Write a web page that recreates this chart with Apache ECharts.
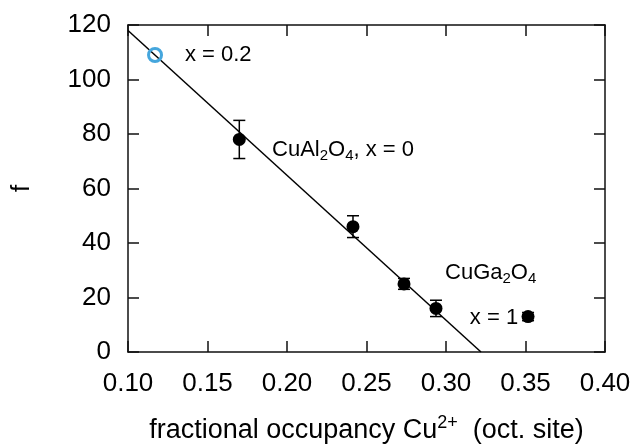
<!DOCTYPE html>
<html>
<head>
<meta charset="utf-8">
<script src="https://cdn.jsdelivr.net/npm/echarts@6/dist/echarts.min.js"></script>
<style>html,body{margin:0;padding:0;background:#fff;}#c{width:632px;height:444px;}</style>
</head>
<body>
<div id="c"></div>
<script>
// data
var occX = [0.170, 0.2415, 0.2736, 0.2937, 0.3516];
var fVals = [78, 46, 25, 16, 13];
var fErr = [7, 4, 2, 3, 1.5];
var openPoint = [0.117, 109];
var fitLine = [[0.10, 118], [0.322, 0]];
var xTicks = [0.10, 0.15, 0.20, 0.25, 0.30, 0.35, 0.40];
var yTicks = [0, 20, 40, 60, 80, 100, 120];
var annotations = [
  {x: 0.1358, y: 109, text: '{a|x = 0.2}'},
  {x: 0.1906, y: 74, text: '{a|CuAl}{s|2}{a|O}{s|4}{a|, x = 0}'},
  {x: 0.2994, y: 29, text: '{a|CuGa}{s|2}{a|O}{s|4}'},
  {x: 0.315, y: 12.5, text: '{a|x = 1}'}
];

var font = 'Liberation Sans, Arial, sans-serif';
var chart = echarts.init(document.getElementById('c'));
var pts = occX.map(function (x, i) { return [x, fVals[i]]; });
var errData = occX.map(function (x, i) { return [x, fVals[i] - fErr[i], fVals[i] + fErr[i]]; });
var richStyle = {
  a: {fontSize: 22, fontFamily: font, color: '#000'},
  s: {fontSize: 15, fontFamily: font, color: '#000', padding: [12, 0, 0, 0]}
};
var axisCommon = {
  axisLine: {show: true, onZero: false, lineStyle: {color: '#111', width: 1.5}},
  axisTick: {show: true, inside: true, length: 11, lineStyle: {color: '#111', width: 1.5}},
  splitLine: {show: false}
};
chart.setOption({
  animation: false,
  grid: {left: 128, right: 27, top: 25, bottom: 92, containLabel: false, outerBoundsMode: 'none'},
  xAxis: [
    Object.assign({type: 'value', min: 0.10, max: 0.40, interval: 0.05, position: 'bottom',
      name: '{a|fractional occupancy Cu}{p|2+}{a|  (oct. site)}',
      nameLocation: 'middle', nameGap: 62,
      nameTextStyle: {rich: {
        a: {fontSize: 27, fontFamily: font, color: '#000'},
        p: {fontSize: 18, fontFamily: font, color: '#000', padding: [0, 0, 16, 0]}
      }},
      axisLabel: {fontSize: 26, fontFamily: font, color: '#000', margin: 19,
        formatter: function (v) { return v.toFixed(2); }}
    }, axisCommon),
    Object.assign({type: 'value', min: 0.10, max: 0.40, interval: 0.05, position: 'top',
      axisLabel: {show: false}}, axisCommon)
  ],
  yAxis: [
    Object.assign({type: 'value', min: 0, max: 120, interval: 20, position: 'left',
      name: 'f', nameLocation: 'middle', nameGap: 93, nameRotate: 90,
      nameTextStyle: {fontSize: 26, fontFamily: font, color: '#000'},
      axisLabel: {fontSize: 26, fontFamily: font, color: '#000', margin: 17}
    }, axisCommon),
    Object.assign({type: 'value', min: 0, max: 120, interval: 20, position: 'right',
      axisLabel: {show: false}}, axisCommon)
  ],
  series: [
    {type: 'line', data: fitLine, symbol: 'none', lineStyle: {color: '#000', width: 1.5}, z: 2},
    {type: 'custom', data: errData, z: 3,
      renderItem: function (params, api) {
        var x = api.value(0);
        var lo = api.coord([x, api.value(1)]);
        var hi = api.coord([x, api.value(2)]);
        var w = 6;
        var st = {stroke: '#000', lineWidth: 1.5};
        return {type: 'group', children: [
          {type: 'line', shape: {x1: lo[0], y1: lo[1], x2: hi[0], y2: hi[1]}, style: st},
          {type: 'line', shape: {x1: lo[0] - w, y1: lo[1], x2: lo[0] + w, y2: lo[1]}, style: st},
          {type: 'line', shape: {x1: hi[0] - w, y1: hi[1], x2: hi[0] + w, y2: hi[1]}, style: st}
        ]};
      }
    },
    {type: 'scatter', data: pts, symbol: 'circle', symbolSize: 13, itemStyle: {color: '#000', opacity: 1}, z: 4},
    {type: 'scatter', data: [openPoint], symbol: 'circle', symbolSize: 13,
      itemStyle: {color: 'rgba(255,255,255,0)', borderColor: '#45a6dd', borderWidth: 3, opacity: 1}, z: 5},
    {type: 'scatter', symbolSize: 0, silent: true, z: 6, itemStyle: {opacity: 1},
      data: annotations.map(function (a) { return {value: [a.x, a.y], label: {formatter: a.text}}; }),
      label: {show: true, position: 'right', distance: 0, color: '#000', rich: richStyle}
    }
  ]
});
</script>
</body>
</html>
